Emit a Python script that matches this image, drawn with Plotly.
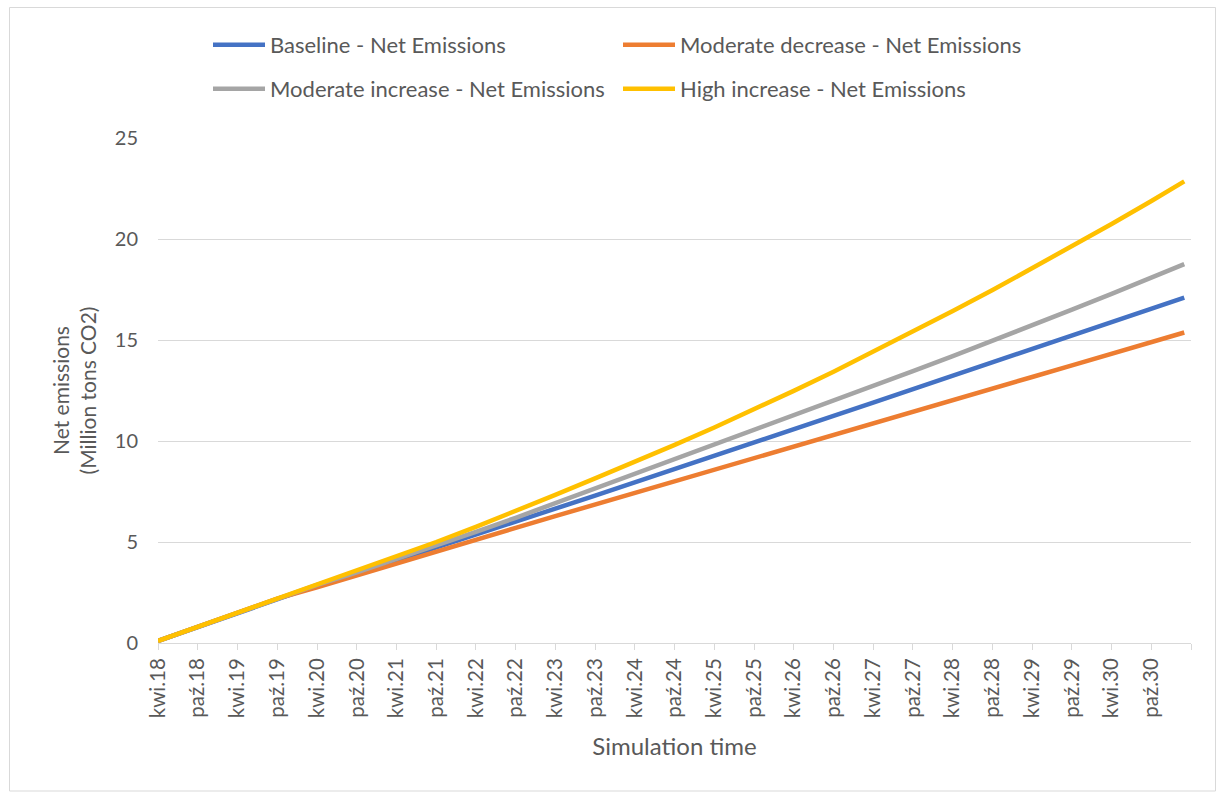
import plotly.graph_objects as go

# Dates of the read-off points (every 6 months, plus the last simulated month)
dates = ["2018-04-01", "2018-10-01", "2019-04-01", "2019-10-01", "2020-04-01", "2020-10-01",
         "2021-04-01", "2021-10-01", "2022-04-01", "2022-10-01", "2023-04-01", "2023-10-01",
         "2024-04-01", "2024-10-01", "2025-04-01", "2025-10-01", "2026-04-01", "2026-10-01",
         "2027-04-01", "2027-10-01", "2028-04-01", "2028-10-01", "2029-04-01", "2029-10-01",
         "2030-04-01", "2030-10-01", "2031-03-01"]

baseline = [0.1, 0.8, 1.5, 2.2, 2.85, 3.45, 4.08, 4.72, 5.37, 6.0, 6.65, 7.3, 7.95, 8.6,
            9.25, 9.92, 10.58, 11.24, 11.9, 12.56, 13.22, 13.88, 14.55, 15.22, 15.88, 16.55, 17.1]
moderate_decrease = [0.1, 0.8, 1.5, 2.2, 2.75, 3.35, 3.95, 4.55, 5.12, 5.7, 6.28, 6.86, 7.44, 8.01,
                     8.59, 9.17, 9.74, 10.32, 10.89, 11.46, 12.03, 12.6, 13.17, 13.74, 14.31, 14.88, 15.37]
moderate_increase = [0.1, 0.8, 1.5, 2.2, 2.88, 3.5, 4.15, 4.82, 5.5, 6.2, 6.92, 7.64, 8.36, 9.08,
                     9.8, 10.52, 11.25, 11.98, 12.72, 13.46, 14.2, 14.95, 15.72, 16.5, 17.28, 18.08, 18.76]
high_increase = [0.1, 0.8, 1.5, 2.2, 2.9, 3.6, 4.3, 5.0, 5.75, 6.53, 7.33, 8.15, 8.97, 9.81,
                 10.67, 11.56, 12.48, 13.43, 14.41, 15.41, 16.43, 17.47, 18.54, 19.62, 20.74, 21.88, 22.85]

tick_dates = ["2018-04-01", "2018-10-01", "2019-04-01", "2019-10-01", "2020-04-01", "2020-10-01",
              "2021-04-01", "2021-10-01", "2022-04-01", "2022-10-01", "2023-04-01", "2023-10-01",
              "2024-04-01", "2024-10-01", "2025-04-01", "2025-10-01", "2026-04-01", "2026-10-01",
              "2027-04-01", "2027-10-01", "2028-04-01", "2028-10-01", "2029-04-01", "2029-10-01",
              "2030-04-01", "2030-10-01", "2031-04-01"]
tick_labels = ["kwi.18", "paź.18", "kwi.19", "paź.19", "kwi.20", "paź.20", "kwi.21", "paź.21",
               "kwi.22", "paź.22", "kwi.23", "paź.23", "kwi.24", "paź.24", "kwi.25", "paź.25",
               "kwi.26", "paź.26", "kwi.27", "paź.27", "kwi.28", "paź.28", "kwi.29", "paź.29",
               "kwi.30", "paź.30", ""]

series = [
    ("Baseline - Net Emissions", baseline, "#4472C4", "legend"),
    ("Moderate decrease - Net Emissions", moderate_decrease, "#ED7D31", "legend"),
    ("Moderate increase - Net Emissions", moderate_increase, "#A5A5A5", "legend2"),
    ("High increase - Net Emissions", high_increase, "#FFC000", "legend2"),
]

FONT = "Lato, Carlito, Calibri, sans-serif"
TXT = "#595959"

fig = go.Figure()
for name, vals, color, leg in series:
    fig.add_trace(go.Scatter(x=dates, y=vals, name=name, mode="lines",
                             line=dict(color=color, width=4.5), legend=leg))

W, H = 1222, 792
ml, mr, mt, mb = 158, 31, 138, 149
pw, ph = W - ml - mr, H - mt - mb

def px(x):
    return (x - ml) / pw

def py(y):
    return (H - mb - y) / ph

leg_common = dict(orientation="h", xanchor="left", yanchor="top",
                  entrywidth=343, entrywidthmode="pixels", itemwidth=52,
                  font=dict(size=22, color=TXT), bgcolor="rgba(0,0,0,0)")

fig.update_layout(
    width=W, height=H,
    margin=dict(l=ml, r=mr, t=mt, b=mb),
    paper_bgcolor="white", plot_bgcolor="white",
    font=dict(family=FONT, color=TXT),
    legend=dict(x=px(208), y=py(24), **leg_common),
    legend2=dict(x=px(208), y=py(68), **leg_common),
    xaxis=dict(type="date", range=["2018-04-01", "2031-04-01"],
               tickmode="array", tickvals=tick_dates, ticktext=tick_labels,
               tickangle=-90, tickfont=dict(size=20.5, color=TXT),
               showgrid=False, showline=True, linecolor="#D9D9D9", linewidth=1,
               ticks="outside", ticklen=6, tickcolor="#D9D9D9",
               title=dict(text="Simulation time", font=dict(size=24, color=TXT), standoff=20)),
    yaxis=dict(range=[0, 25], tickvals=[0, 5, 10, 15, 20, 25],
               tickfont=dict(size=20, color=TXT),
               showgrid=True, gridcolor="#D9D9D9", gridwidth=1, zeroline=False,
               showline=False, ticks="", ticklabelstandoff=19,
               title=dict(text="Net emissions<br>(Million tons CO2)",
                          font=dict(size=21, color=TXT), standoff=12)),
    shapes=[dict(type="rect", xref="paper", yref="paper",
                 x0=px(9.5), x1=px(1215.5), y0=py(791), y1=py(7.5),
                 line=dict(color="#D9D9D9", width=1), fillcolor="rgba(0,0,0,0)", layer="below")],
)

fig.write_html("out.html", config={"displayModeBar": False},
               post_script="document.body.style.margin='0';")
